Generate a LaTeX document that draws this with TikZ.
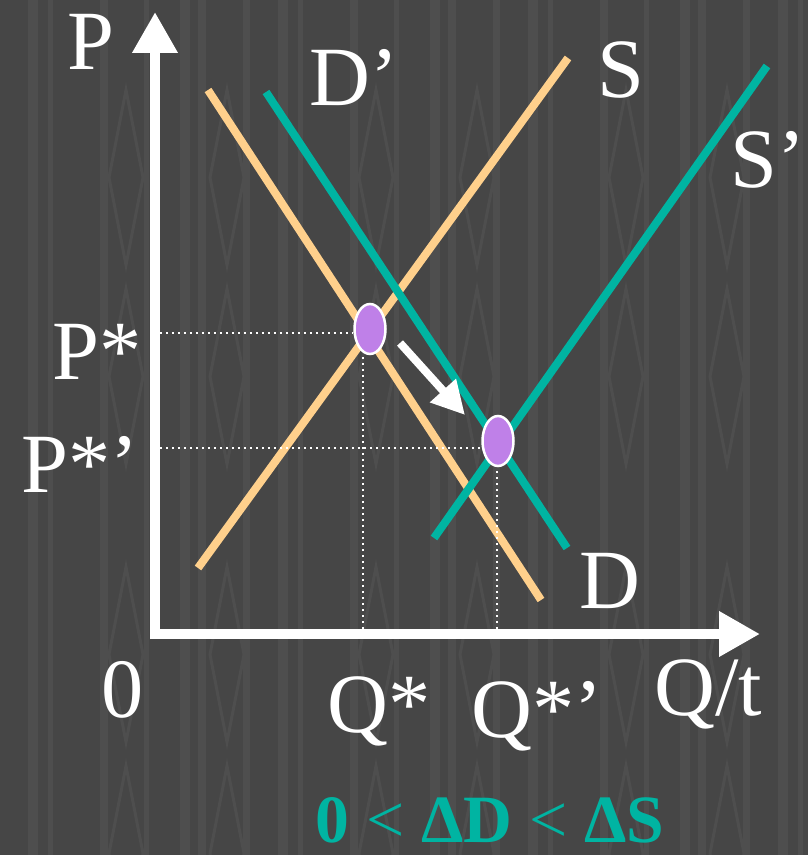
\documentclass[tikz,border=0pt]{standalone}
\usepackage{fontspec}
\setmainfont{Liberation Serif}
\usepackage{xcolor}
\usetikzlibrary{arrows.meta,shapes.geometric,positioning}

\definecolor{bgGray}{HTML}{464646}
\definecolor{stripeGray}{HTML}{4E4E4E}
\definecolor{curveOrange}{HTML}{FFD08C}
\definecolor{curveTeal}{HTML}{00B4A2}
\definecolor{eqPurple}{HTML}{BF80E8}

\begin{document}
\begin{tikzpicture}[
    x=0.02cm, y=-0.02cm,
    axis/.style={line width=2mm, white, -{Triangle[length=8.2mm, width=8.6mm]}},
    orangeline/.style={line width=1.6mm, curveOrange},
    tealline/.style={line width=1.6mm, curveTeal},
    guide/.style={white, line width=0.5mm, dash pattern=on 0.4mm off 0.8mm},
    eqdot/.style={ellipse, draw=white, line width=0.5mm, fill=eqPurple, minimum width=6.2mm, minimum height=10mm, inner sep=0pt},
    movearrow/.style={line width=1.6mm, white, -{Triangle[length=6.6mm, width=6.6mm]}},
    lbl/.style={text=white, font=\fontsize{48}{50}\selectfont, inner sep=0pt, anchor=base west},
    texture/.style={line width=0.6mm, stripeGray}
]
\useasboundingbox (0,0) rectangle (808,855);

% Background
\begin{scope}
\clip (0,0) rectangle (808,855);
\fill[bgGray] (0,0) rectangle (808,855);
\foreach \tx in {-250,0,250,500,750}{
  \foreach \sx/\sw in {33/10,50/5,104/8,146/5,185/10,202/8,246/7}
    \fill[stripeGray] (\tx+\sx-\sw/2,0) rectangle ++(\sw,855);
  \foreach \dx in {126,227}
    \foreach \dy in {90,289,567,766}
      \draw[texture] (\tx+\dx,\dy) -- ++(17,87.5) -- ++(-17,87.5) -- ++(-17,-87.5) -- cycle;
}
\end{scope}

% Axes
\coordinate (origin) at (155,634);
\coordinate (ptop) at (155,12);
\coordinate (qend) at (760,634);
\draw[axis] (155,639) -- (ptop);
\draw[axis] (150,634) -- (qend);

% Curves
\coordinate (sLow) at (198,568);
\coordinate (sHigh) at (568,58);
\coordinate (dHigh) at (208,90);
\coordinate (dLow) at (541,600);
\coordinate (dpHigh) at (266,92);
\coordinate (dpLow) at (567,548);
\coordinate (spLow) at (434,538);
\coordinate (spHigh) at (767,66);
\draw[orangeline] (sLow) -- (sHigh);
\draw[orangeline] (dHigh) -- (dLow);
\draw[tealline] (dpHigh) -- (dpLow);
\draw[tealline] (spLow) -- (spHigh);

% Guides
\coordinate (pA) at (160,333);
\coordinate (pB) at (160,448);
\coordinate (qA) at (363,629);
\coordinate (qB) at (497,629);

% Equilibria
\node[eqdot] (eqA) at (370,329) {};
\node[eqdot] (eqB) at (498,441) {};
\draw[guide] (pA) -- (pA -| eqA.west);
\draw[guide] (qA) -- (qA |- eqA.south);
\draw[guide] (pB) -- (pB -| eqB.west);
\draw[guide] (qB) -- (qB |- eqB.south);

% Movement
\coordinate (moveStart) at (400,343);
\coordinate (moveEnd) at (465,415);
\draw[movearrow] (moveStart) -- (moveEnd);

% Labels
\node[lbl] (pLabel) at (67,70) {P};
\node[lbl] (dpLabel) at (309,106) {D’};
\node[lbl] (sLabel) at (597,97) {S};
\node[lbl] (spLabel) at (730,187) {S’};
\node[lbl] (pstarA) at (52,379) {P*};
\node[lbl] (pstarB) at (21,492) {P*’};
\node[lbl] (dLabel) at (579,608) {D};
\node[lbl] (zeroLabel) at (101,717) {0};
\node[lbl] (qstarA) at (327,732) {Q*};
\node[lbl] (qstarB) at (471,737) {Q*’};
\node[lbl] (qLabel) at (654,715) {Q/t};

% Condition
\node[text=curveTeal, font=\fontsize{38.5}{40}\selectfont\bfseries, inner sep=0pt, anchor=base] (cond) at (490,842) {0 \textmd{<} ΔD \textmd{<} ΔS};

\end{tikzpicture}
\end{document}
